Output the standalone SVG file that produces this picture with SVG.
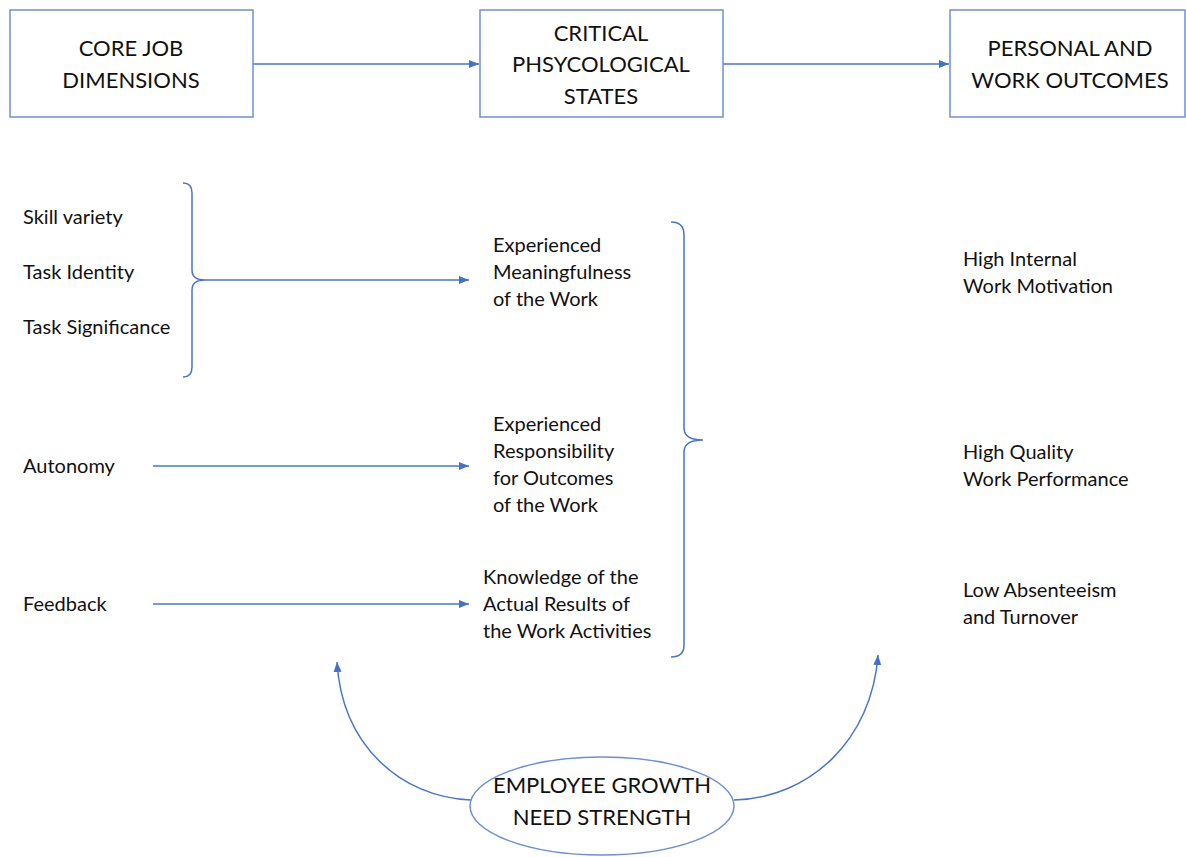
<svg xmlns="http://www.w3.org/2000/svg" width="1186" height="857" viewBox="0 0 1186 857">
<style>
.box{fill:#fff;stroke:#6f90d0;stroke-width:1.5}
.ln{fill:none;stroke:#4a76c6;stroke-width:1.5}
.hd{font-family:Lato,"Open Sans",sans-serif;font-size:22px;fill:#111;text-anchor:middle}
.tx{font-family:Lato,"Open Sans",sans-serif;font-size:20px;fill:#111}
</style>
<defs>
<marker id="ah" viewBox="0 0 10 10" refX="10" refY="5" markerWidth="10" markerHeight="10" markerUnits="userSpaceOnUse" orient="auto">
<path d="M0,1 L10,5 L0,9 Z" fill="#4472c4"/>
</marker>
</defs>
<rect width="1186" height="857" fill="#fff"/>
<g id="connectors">
<line class="ln" x1="253" y1="64" x2="479" y2="64" marker-end="url(#ah)"/>
<line class="ln" x1="723" y1="64" x2="949" y2="64" marker-end="url(#ah)"/>
<path class="ln" d="M183,183 Q192,183 192,193 L192,270 Q192,280 205,280 Q192,280 192,290 L192,367 Q192,377 183,377"/>
<line class="ln" x1="205" y1="280" x2="469" y2="280" marker-end="url(#ah)"/>
<line class="ln" x1="153" y1="466" x2="469" y2="466" marker-end="url(#ah)"/>
<line class="ln" x1="153" y1="604" x2="469" y2="604" marker-end="url(#ah)"/>
<path class="ln" d="M671,222 Q684,222 684,235 L684,428 Q684,440 703,440 Q684,440 684,452 L684,645 Q684,657 671,657"/>
<path class="ln" d="M471,800 C400,797 342,745 337,662" marker-end="url(#ah)"/>
<path class="ln" d="M734,800 C810,798 872,740 878,655" marker-end="url(#ah)"/>
</g>
<g id="core">
<rect class="box" x="10" y="10" width="243" height="107"/>
<text class="hd" x="131" y="56">CORE JOB</text>
<text class="hd" x="131" y="88">DIMENSIONS</text>
</g>
<g id="critical">
<rect class="box" x="480" y="10" width="243" height="107"/>
<text class="hd" x="601" y="41">CRITICAL</text>
<text class="hd" x="601" y="72">PHSYCOLOGICAL</text>
<text class="hd" x="601" y="104">STATES</text>
</g>
<g id="outcomes">
<rect class="box" x="950" y="10" width="235" height="107"/>
<text class="hd" x="1070" y="56">PERSONAL AND</text>
<text class="hd" x="1070" y="88">WORK OUTCOMES</text>
</g>
<g id="skill"><text class="tx" x="23" y="224">Skill variety</text></g>
<g id="identity"><text class="tx" x="23" y="279">Task Identity</text></g>
<g id="significance"><text class="tx" x="23" y="334">Task Significance</text></g>
<g id="autonomy"><text class="tx" x="23" y="473">Autonomy</text></g>
<g id="feedback"><text class="tx" x="23" y="611">Feedback</text></g>
<g id="meaning">
<text class="tx" x="493" y="252">Experienced</text>
<text class="tx" x="493" y="279">Meaningfulness</text>
<text class="tx" x="493" y="306">of the Work</text>
</g>
<g id="responsibility">
<text class="tx" x="493" y="431">Experienced</text>
<text class="tx" x="493" y="458">Responsibility</text>
<text class="tx" x="493" y="485">for Outcomes</text>
<text class="tx" x="493" y="512">of the Work</text>
</g>
<g id="knowledge">
<text class="tx" x="483" y="584">Knowledge of the</text>
<text class="tx" x="483" y="611">Actual Results of</text>
<text class="tx" x="483" y="638">the Work Activities</text>
</g>
<g id="motivation">
<text class="tx" x="963" y="266">High Internal</text>
<text class="tx" x="963" y="293">Work Motivation</text>
</g>
<g id="performance">
<text class="tx" x="963" y="459">High Quality</text>
<text class="tx" x="963" y="486">Work Performance</text>
</g>
<g id="absenteeism">
<text class="tx" x="963" y="597">Low Absenteeism</text>
<text class="tx" x="963" y="624">and Turnover</text>
</g>
<g id="growth">
<ellipse class="box" cx="602" cy="806" rx="132" ry="49"/>
<text class="hd" x="602" y="793">EMPLOYEE GROWTH</text>
<text class="hd" x="602" y="825">NEED STRENGTH</text>
</g>
</svg>
